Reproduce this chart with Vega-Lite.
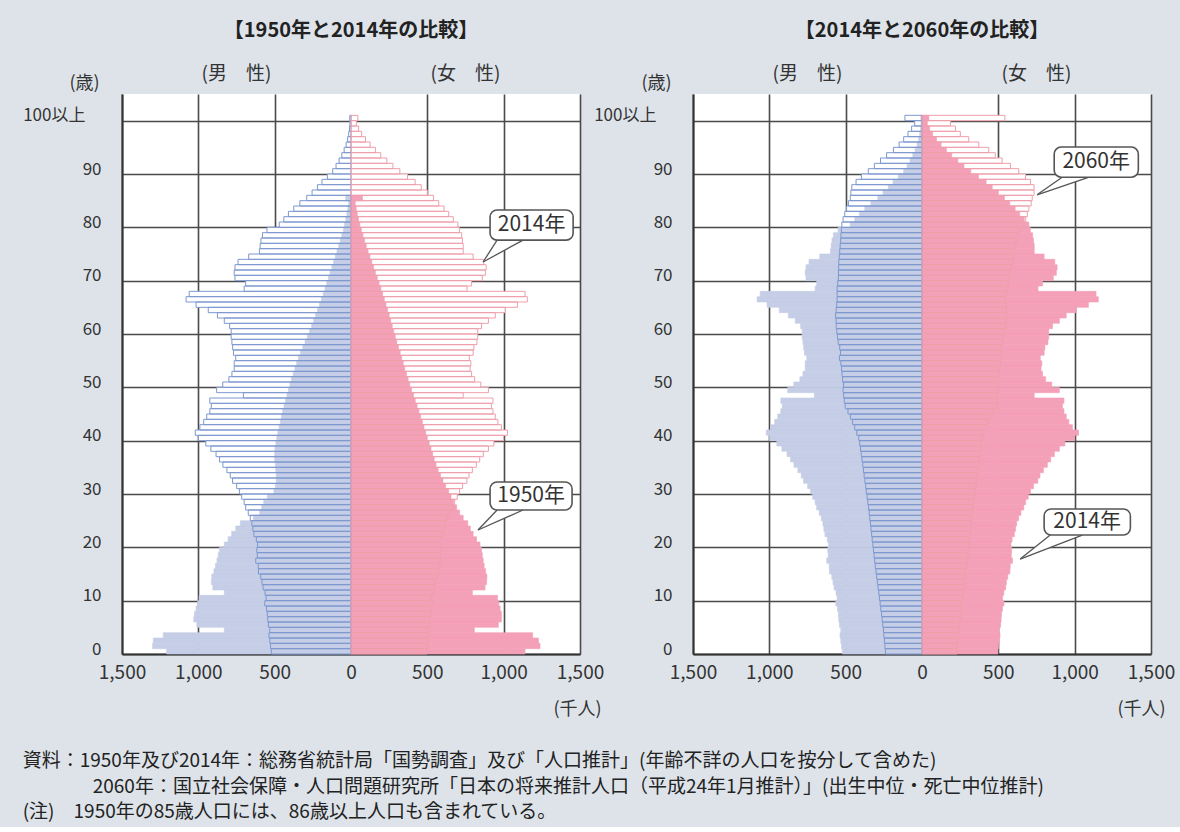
{
"$schema":"https://vega.github.io/schema/vega-lite/v6.json",
"background":"#dde3e9",
"padding":{"left":22,"top":21,"right":10,"bottom":5},
"config":{"font":"Noto Sans CJK JP","view":{"stroke":null,"fill":"white"},"axis":{"labelFont":"Noto Sans CJK JP","titleFont":"Noto Sans CJK JP"},"title":{"font":"Noto Sans CJK JP"},"text":{"font":"Noto Sans CJK JP"}},
"datasets":{
"d1950":[
{"sex":"M","age":0,"pop":1208},{"sex":"M","age":1,"pop":1300},{"sex":"M","age":2,"pop":1295},{"sex":"M","age":3,"pop":1230},{"sex":"M","age":4,"pop":830},{"sex":"M","age":5,"pop":1010},{"sex":"M","age":6,"pop":1030},{"sex":"M","age":7,"pop":1025},{"sex":"M","age":8,"pop":1015},{"sex":"M","age":9,"pop":1005},
{"sex":"M","age":10,"pop":995},{"sex":"M","age":11,"pop":830},{"sex":"M","age":12,"pop":905},{"sex":"M","age":13,"pop":915},{"sex":"M","age":14,"pop":912},{"sex":"M","age":15,"pop":898},{"sex":"M","age":16,"pop":888},{"sex":"M","age":17,"pop":878},{"sex":"M","age":18,"pop":870},{"sex":"M","age":19,"pop":862},
{"sex":"M","age":20,"pop":830},{"sex":"M","age":21,"pop":805},{"sex":"M","age":22,"pop":782},{"sex":"M","age":23,"pop":755},{"sex":"M","age":24,"pop":725},{"sex":"M","age":25,"pop":640},{"sex":"M","age":26,"pop":598},{"sex":"M","age":27,"pop":585},{"sex":"M","age":28,"pop":572},{"sex":"M","age":29,"pop":548},
{"sex":"M","age":30,"pop":505},{"sex":"M","age":31,"pop":495},{"sex":"M","age":32,"pop":490},{"sex":"M","age":33,"pop":490},{"sex":"M","age":34,"pop":493},{"sex":"M","age":35,"pop":496},{"sex":"M","age":36,"pop":500},{"sex":"M","age":37,"pop":500},{"sex":"M","age":38,"pop":498},{"sex":"M","age":39,"pop":492},
{"sex":"M","age":40,"pop":486},{"sex":"M","age":41,"pop":479},{"sex":"M","age":42,"pop":471},{"sex":"M","age":43,"pop":463},{"sex":"M","age":44,"pop":456},{"sex":"M","age":45,"pop":448},{"sex":"M","age":46,"pop":439},{"sex":"M","age":47,"pop":429},{"sex":"M","age":48,"pop":419},{"sex":"M","age":49,"pop":410},
{"sex":"M","age":50,"pop":400},{"sex":"M","age":51,"pop":390},{"sex":"M","age":52,"pop":379},{"sex":"M","age":53,"pop":367},{"sex":"M","age":54,"pop":356},{"sex":"M","age":55,"pop":345},{"sex":"M","age":56,"pop":331},{"sex":"M","age":57,"pop":316},{"sex":"M","age":58,"pop":301},{"sex":"M","age":59,"pop":286},
{"sex":"M","age":60,"pop":271},{"sex":"M","age":61,"pop":258},{"sex":"M","age":62,"pop":245},{"sex":"M","age":63,"pop":232},{"sex":"M","age":64,"pop":219},{"sex":"M","age":65,"pop":206},{"sex":"M","age":66,"pop":194},{"sex":"M","age":67,"pop":182},{"sex":"M","age":68,"pop":170},{"sex":"M","age":69,"pop":159},
{"sex":"M","age":70,"pop":148},{"sex":"M","age":71,"pop":137},{"sex":"M","age":72,"pop":125},{"sex":"M","age":73,"pop":114},{"sex":"M","age":74,"pop":103},{"sex":"M","age":75,"pop":92},{"sex":"M","age":76,"pop":81},{"sex":"M","age":77,"pop":70},{"sex":"M","age":78,"pop":60},{"sex":"M","age":79,"pop":50},
{"sex":"M","age":80,"pop":42},{"sex":"M","age":81,"pop":34},{"sex":"M","age":82,"pop":27},{"sex":"M","age":83,"pop":21},{"sex":"M","age":84,"pop":16},{"sex":"M","age":85,"pop":35},
{"sex":"F","age":0,"pop":1140},{"sex":"F","age":1,"pop":1238},{"sex":"F","age":2,"pop":1228},{"sex":"F","age":3,"pop":1190},{"sex":"F","age":4,"pop":808},{"sex":"F","age":5,"pop":965},{"sex":"F","age":6,"pop":985},{"sex":"F","age":7,"pop":985},{"sex":"F","age":8,"pop":977},{"sex":"F","age":9,"pop":968},
{"sex":"F","age":10,"pop":960},{"sex":"F","age":11,"pop":795},{"sex":"F","age":12,"pop":878},{"sex":"F","age":13,"pop":888},{"sex":"F","age":14,"pop":890},{"sex":"F","age":15,"pop":882},{"sex":"F","age":16,"pop":872},{"sex":"F","age":17,"pop":866},{"sex":"F","age":18,"pop":860},{"sex":"F","age":19,"pop":855},
{"sex":"F","age":20,"pop":845},{"sex":"F","age":21,"pop":822},{"sex":"F","age":22,"pop":800},{"sex":"F","age":23,"pop":782},{"sex":"F","age":24,"pop":765},{"sex":"F","age":25,"pop":735},{"sex":"F","age":26,"pop":712},{"sex":"F","age":27,"pop":692},{"sex":"F","age":28,"pop":672},{"sex":"F","age":29,"pop":655},
{"sex":"F","age":30,"pop":640},{"sex":"F","age":31,"pop":620},{"sex":"F","age":32,"pop":602},{"sex":"F","age":33,"pop":586},{"sex":"F","age":34,"pop":571},{"sex":"F","age":35,"pop":557},{"sex":"F","age":36,"pop":545},{"sex":"F","age":37,"pop":535},{"sex":"F","age":38,"pop":524},{"sex":"F","age":39,"pop":512},
{"sex":"F","age":40,"pop":500},{"sex":"F","age":41,"pop":490},{"sex":"F","age":42,"pop":478},{"sex":"F","age":43,"pop":467},{"sex":"F","age":44,"pop":456},{"sex":"F","age":45,"pop":445},{"sex":"F","age":46,"pop":433},{"sex":"F","age":47,"pop":421},{"sex":"F","age":48,"pop":409},{"sex":"F","age":49,"pop":397},
{"sex":"F","age":50,"pop":385},{"sex":"F","age":51,"pop":374},{"sex":"F","age":52,"pop":363},{"sex":"F","age":53,"pop":352},{"sex":"F","age":54,"pop":342},{"sex":"F","age":55,"pop":332},{"sex":"F","age":56,"pop":322},{"sex":"F","age":57,"pop":311},{"sex":"F","age":58,"pop":300},{"sex":"F","age":59,"pop":290},
{"sex":"F","age":60,"pop":280},{"sex":"F","age":61,"pop":270},{"sex":"F","age":62,"pop":260},{"sex":"F","age":63,"pop":250},{"sex":"F","age":64,"pop":240},{"sex":"F","age":65,"pop":229},{"sex":"F","age":66,"pop":218},{"sex":"F","age":67,"pop":207},{"sex":"F","age":68,"pop":196},{"sex":"F","age":69,"pop":184},
{"sex":"F","age":70,"pop":172},{"sex":"F","age":71,"pop":160},{"sex":"F","age":72,"pop":148},{"sex":"F","age":73,"pop":136},{"sex":"F","age":74,"pop":124},{"sex":"F","age":75,"pop":112},{"sex":"F","age":76,"pop":100},{"sex":"F","age":77,"pop":89},{"sex":"F","age":78,"pop":78},{"sex":"F","age":79,"pop":68},
{"sex":"F","age":80,"pop":58},{"sex":"F","age":81,"pop":49},{"sex":"F","age":82,"pop":41},{"sex":"F","age":83,"pop":34},{"sex":"F","age":84,"pop":28},{"sex":"F","age":85,"pop":75}
],
"d2014":[
{"sex":"M","age":0,"pop":522},{"sex":"M","age":1,"pop":527},{"sex":"M","age":2,"pop":532},{"sex":"M","age":3,"pop":537},{"sex":"M","age":4,"pop":532},{"sex":"M","age":5,"pop":541},{"sex":"M","age":6,"pop":545},{"sex":"M","age":7,"pop":548},{"sex":"M","age":8,"pop":553},{"sex":"M","age":9,"pop":565},
{"sex":"M","age":10,"pop":556},{"sex":"M","age":11,"pop":563},{"sex":"M","age":12,"pop":576},{"sex":"M","age":13,"pop":583},{"sex":"M","age":14,"pop":591},{"sex":"M","age":15,"pop":606},{"sex":"M","age":16,"pop":608},{"sex":"M","age":17,"pop":624},{"sex":"M","age":18,"pop":614},{"sex":"M","age":19,"pop":617},
{"sex":"M","age":20,"pop":612},{"sex":"M","age":21,"pop":620},{"sex":"M","age":22,"pop":636},{"sex":"M","age":23,"pop":643},{"sex":"M","age":24,"pop":649},{"sex":"M","age":25,"pop":660},{"sex":"M","age":26,"pop":673},{"sex":"M","age":27,"pop":690},{"sex":"M","age":28,"pop":700},{"sex":"M","age":29,"pop":716},
{"sex":"M","age":30,"pop":731},{"sex":"M","age":31,"pop":749},{"sex":"M","age":32,"pop":776},{"sex":"M","age":33,"pop":791},{"sex":"M","age":34,"pop":813},{"sex":"M","age":35,"pop":839},{"sex":"M","age":36,"pop":861},{"sex":"M","age":37,"pop":884},{"sex":"M","age":38,"pop":918},{"sex":"M","age":39,"pop":951},
{"sex":"M","age":40,"pop":1000},{"sex":"M","age":41,"pop":1020},{"sex":"M","age":42,"pop":990},{"sex":"M","age":43,"pop":965},{"sex":"M","age":44,"pop":945},{"sex":"M","age":45,"pop":925},{"sex":"M","age":46,"pop":915},{"sex":"M","age":47,"pop":925},{"sex":"M","age":48,"pop":705},{"sex":"M","age":49,"pop":880},
{"sex":"M","age":50,"pop":840},{"sex":"M","age":51,"pop":800},{"sex":"M","age":52,"pop":780},{"sex":"M","age":53,"pop":765},{"sex":"M","age":54,"pop":765},{"sex":"M","age":55,"pop":755},{"sex":"M","age":56,"pop":770},{"sex":"M","age":57,"pop":775},{"sex":"M","age":58,"pop":780},{"sex":"M","age":59,"pop":785},
{"sex":"M","age":60,"pop":785},{"sex":"M","age":61,"pop":795},{"sex":"M","age":62,"pop":830},{"sex":"M","age":63,"pop":875},{"sex":"M","age":64,"pop":935},{"sex":"M","age":65,"pop":1015},{"sex":"M","age":66,"pop":1080},{"sex":"M","age":67,"pop":1060},{"sex":"M","age":68,"pop":700},{"sex":"M","age":69,"pop":690},
{"sex":"M","age":70,"pop":760},{"sex":"M","age":71,"pop":765},{"sex":"M","age":72,"pop":760},{"sex":"M","age":73,"pop":740},{"sex":"M","age":74,"pop":670},{"sex":"M","age":75,"pop":600},{"sex":"M","age":76,"pop":595},{"sex":"M","age":77,"pop":590},{"sex":"M","age":78,"pop":580},{"sex":"M","age":79,"pop":550},
{"sex":"M","age":80,"pop":470},{"sex":"M","age":81,"pop":440},{"sex":"M","age":82,"pop":410},{"sex":"M","age":83,"pop":375},{"sex":"M","age":84,"pop":335},{"sex":"M","age":85,"pop":290},{"sex":"M","age":86,"pop":255},{"sex":"M","age":87,"pop":220},{"sex":"M","age":88,"pop":190},{"sex":"M","age":89,"pop":155},
{"sex":"M","age":90,"pop":120},{"sex":"M","age":91,"pop":98},{"sex":"M","age":92,"pop":78},{"sex":"M","age":93,"pop":60},{"sex":"M","age":94,"pop":45},{"sex":"M","age":95,"pop":32},{"sex":"M","age":96,"pop":22},{"sex":"M","age":97,"pop":15},{"sex":"M","age":98,"pop":10},{"sex":"M","age":99,"pop":7},{"sex":"M","age":100,"pop":8},
{"sex":"F","age":0,"pop":497},{"sex":"F","age":1,"pop":502},{"sex":"F","age":2,"pop":506},{"sex":"F","age":3,"pop":511},{"sex":"F","age":4,"pop":506},{"sex":"F","age":5,"pop":515},{"sex":"F","age":6,"pop":518},{"sex":"F","age":7,"pop":521},{"sex":"F","age":8,"pop":527},{"sex":"F","age":9,"pop":537},
{"sex":"F","age":10,"pop":528},{"sex":"F","age":11,"pop":536},{"sex":"F","age":12,"pop":548},{"sex":"F","age":13,"pop":553},{"sex":"F","age":14,"pop":562},{"sex":"F","age":15,"pop":576},{"sex":"F","age":16,"pop":578},{"sex":"F","age":17,"pop":593},{"sex":"F","age":18,"pop":585},{"sex":"F","age":19,"pop":587},
{"sex":"F","age":20,"pop":583},{"sex":"F","age":21,"pop":590},{"sex":"F","age":22,"pop":605},{"sex":"F","age":23,"pop":613},{"sex":"F","age":24,"pop":620},{"sex":"F","age":25,"pop":633},{"sex":"F","age":26,"pop":648},{"sex":"F","age":27,"pop":667},{"sex":"F","age":28,"pop":679},{"sex":"F","age":29,"pop":696},
{"sex":"F","age":30,"pop":711},{"sex":"F","age":31,"pop":731},{"sex":"F","age":32,"pop":759},{"sex":"F","age":33,"pop":773},{"sex":"F","age":34,"pop":795},{"sex":"F","age":35,"pop":821},{"sex":"F","age":36,"pop":843},{"sex":"F","age":37,"pop":867},{"sex":"F","age":38,"pop":900},{"sex":"F","age":39,"pop":936},
{"sex":"F","age":40,"pop":1000},{"sex":"F","age":41,"pop":1025},{"sex":"F","age":42,"pop":985},{"sex":"F","age":43,"pop":962},{"sex":"F","age":44,"pop":945},{"sex":"F","age":45,"pop":930},{"sex":"F","age":46,"pop":920},{"sex":"F","age":47,"pop":930},{"sex":"F","age":48,"pop":735},{"sex":"F","age":49,"pop":900},
{"sex":"F","age":50,"pop":850},{"sex":"F","age":51,"pop":810},{"sex":"F","age":52,"pop":790},{"sex":"F","age":53,"pop":780},{"sex":"F","age":54,"pop":785},{"sex":"F","age":55,"pop":775},{"sex":"F","age":56,"pop":800},{"sex":"F","age":57,"pop":805},{"sex":"F","age":58,"pop":825},{"sex":"F","age":59,"pop":830},
{"sex":"F","age":60,"pop":830},{"sex":"F","age":61,"pop":855},{"sex":"F","age":62,"pop":900},{"sex":"F","age":63,"pop":945},{"sex":"F","age":64,"pop":1010},{"sex":"F","age":65,"pop":1090},{"sex":"F","age":66,"pop":1155},{"sex":"F","age":67,"pop":1140},{"sex":"F","age":68,"pop":760},{"sex":"F","age":69,"pop":790},
{"sex":"F","age":70,"pop":860},{"sex":"F","age":71,"pop":880},{"sex":"F","age":72,"pop":885},{"sex":"F","age":73,"pop":870},{"sex":"F","age":74,"pop":800},{"sex":"F","age":75,"pop":735},{"sex":"F","age":76,"pop":735},{"sex":"F","age":77,"pop":730},{"sex":"F","age":78,"pop":725},{"sex":"F","age":79,"pop":710},
{"sex":"F","age":80,"pop":700},{"sex":"F","age":81,"pop":670},{"sex":"F","age":82,"pop":640},{"sex":"F","age":83,"pop":610},{"sex":"F","age":84,"pop":575},{"sex":"F","age":85,"pop":540},{"sex":"F","age":86,"pop":500},{"sex":"F","age":87,"pop":460},{"sex":"F","age":88,"pop":420},{"sex":"F","age":89,"pop":370},
{"sex":"F","age":90,"pop":320},{"sex":"F","age":91,"pop":275},{"sex":"F","age":92,"pop":235},{"sex":"F","age":93,"pop":195},{"sex":"F","age":94,"pop":160},{"sex":"F","age":95,"pop":125},{"sex":"F","age":96,"pop":95},{"sex":"F","age":97,"pop":70},{"sex":"F","age":98,"pop":50},{"sex":"F","age":99,"pop":35},{"sex":"F","age":100,"pop":45}
],
"d2060":[
{"sex":"M","age":0,"pop":240},{"sex":"M","age":1,"pop":243},{"sex":"M","age":2,"pop":246},{"sex":"M","age":3,"pop":250},{"sex":"M","age":4,"pop":253},{"sex":"M","age":5,"pop":257},{"sex":"M","age":6,"pop":261},{"sex":"M","age":7,"pop":265},{"sex":"M","age":8,"pop":270},{"sex":"M","age":9,"pop":274},
{"sex":"M","age":10,"pop":279},{"sex":"M","age":11,"pop":283},{"sex":"M","age":12,"pop":288},{"sex":"M","age":13,"pop":292},{"sex":"M","age":14,"pop":297},{"sex":"M","age":15,"pop":301},{"sex":"M","age":16,"pop":306},{"sex":"M","age":17,"pop":310},{"sex":"M","age":18,"pop":314},{"sex":"M","age":19,"pop":318},
{"sex":"M","age":20,"pop":322},{"sex":"M","age":21,"pop":326},{"sex":"M","age":22,"pop":330},{"sex":"M","age":23,"pop":334},{"sex":"M","age":24,"pop":338},{"sex":"M","age":25,"pop":342},{"sex":"M","age":26,"pop":346},{"sex":"M","age":27,"pop":350},{"sex":"M","age":28,"pop":355},{"sex":"M","age":29,"pop":360},
{"sex":"M","age":30,"pop":365},{"sex":"M","age":31,"pop":369},{"sex":"M","age":32,"pop":374},{"sex":"M","age":33,"pop":379},{"sex":"M","age":34,"pop":384},{"sex":"M","age":35,"pop":388},{"sex":"M","age":36,"pop":393},{"sex":"M","age":37,"pop":398},{"sex":"M","age":38,"pop":403},{"sex":"M","age":39,"pop":408},
{"sex":"M","age":40,"pop":414},{"sex":"M","age":41,"pop":427},{"sex":"M","age":42,"pop":441},{"sex":"M","age":43,"pop":455},{"sex":"M","age":44,"pop":469},{"sex":"M","age":45,"pop":485},{"sex":"M","age":46,"pop":503},{"sex":"M","age":47,"pop":509},{"sex":"M","age":48,"pop":513},{"sex":"M","age":49,"pop":517},
{"sex":"M","age":50,"pop":514},{"sex":"M","age":51,"pop":520},{"sex":"M","age":52,"pop":524},{"sex":"M","age":53,"pop":527},{"sex":"M","age":54,"pop":531},{"sex":"M","age":55,"pop":541},{"sex":"M","age":56,"pop":534},{"sex":"M","age":57,"pop":539},{"sex":"M","age":58,"pop":549},{"sex":"M","age":59,"pop":554},
{"sex":"M","age":60,"pop":558},{"sex":"M","age":61,"pop":562},{"sex":"M","age":62,"pop":563},{"sex":"M","age":63,"pop":566},{"sex":"M","age":64,"pop":562},{"sex":"M","age":65,"pop":559},{"sex":"M","age":66,"pop":556},{"sex":"M","age":67,"pop":556},{"sex":"M","age":68,"pop":556},{"sex":"M","age":69,"pop":552},
{"sex":"M","age":70,"pop":548},{"sex":"M","age":71,"pop":547},{"sex":"M","age":72,"pop":546},{"sex":"M","age":73,"pop":545},{"sex":"M","age":74,"pop":542},{"sex":"M","age":75,"pop":539},{"sex":"M","age":76,"pop":536},{"sex":"M","age":77,"pop":533},{"sex":"M","age":78,"pop":531},{"sex":"M","age":79,"pop":528},
{"sex":"M","age":80,"pop":525},{"sex":"M","age":81,"pop":517},{"sex":"M","age":82,"pop":506},{"sex":"M","age":83,"pop":494},{"sex":"M","age":84,"pop":482},{"sex":"M","age":85,"pop":470},{"sex":"M","age":86,"pop":466},{"sex":"M","age":87,"pop":460},{"sex":"M","age":88,"pop":432},{"sex":"M","age":89,"pop":397},
{"sex":"M","age":90,"pop":352},{"sex":"M","age":91,"pop":312},{"sex":"M","age":92,"pop":272},{"sex":"M","age":93,"pop":232},{"sex":"M","age":94,"pop":187},{"sex":"M","age":95,"pop":150},{"sex":"M","age":96,"pop":120},{"sex":"M","age":97,"pop":92},{"sex":"M","age":98,"pop":68},{"sex":"M","age":99,"pop":48},{"sex":"M","age":100,"pop":112},
{"sex":"F","age":0,"pop":229},{"sex":"F","age":1,"pop":232},{"sex":"F","age":2,"pop":235},{"sex":"F","age":3,"pop":239},{"sex":"F","age":4,"pop":242},{"sex":"F","age":5,"pop":245},{"sex":"F","age":6,"pop":249},{"sex":"F","age":7,"pop":253},{"sex":"F","age":8,"pop":257},{"sex":"F","age":9,"pop":261},
{"sex":"F","age":10,"pop":266},{"sex":"F","age":11,"pop":270},{"sex":"F","age":12,"pop":274},{"sex":"F","age":13,"pop":278},{"sex":"F","age":14,"pop":283},{"sex":"F","age":15,"pop":287},{"sex":"F","age":16,"pop":292},{"sex":"F","age":17,"pop":296},{"sex":"F","age":18,"pop":300},{"sex":"F","age":19,"pop":303},
{"sex":"F","age":20,"pop":307},{"sex":"F","age":21,"pop":311},{"sex":"F","age":22,"pop":314},{"sex":"F","age":23,"pop":318},{"sex":"F","age":24,"pop":322},{"sex":"F","age":25,"pop":326},{"sex":"F","age":26,"pop":329},{"sex":"F","age":27,"pop":333},{"sex":"F","age":28,"pop":338},{"sex":"F","age":29,"pop":343},
{"sex":"F","age":30,"pop":348},{"sex":"F","age":31,"pop":352},{"sex":"F","age":32,"pop":357},{"sex":"F","age":33,"pop":362},{"sex":"F","age":34,"pop":366},{"sex":"F","age":35,"pop":370},{"sex":"F","age":36,"pop":375},{"sex":"F","age":37,"pop":380},{"sex":"F","age":38,"pop":385},{"sex":"F","age":39,"pop":390},
{"sex":"F","age":40,"pop":395},{"sex":"F","age":41,"pop":408},{"sex":"F","age":42,"pop":421},{"sex":"F","age":43,"pop":434},{"sex":"F","age":44,"pop":448},{"sex":"F","age":45,"pop":463},{"sex":"F","age":46,"pop":490},{"sex":"F","age":47,"pop":494},{"sex":"F","age":48,"pop":497},{"sex":"F","age":49,"pop":502},
{"sex":"F","age":50,"pop":496},{"sex":"F","age":51,"pop":504},{"sex":"F","age":52,"pop":506},{"sex":"F","age":53,"pop":508},{"sex":"F","age":54,"pop":513},{"sex":"F","age":55,"pop":521},{"sex":"F","age":56,"pop":512},{"sex":"F","age":57,"pop":518},{"sex":"F","age":58,"pop":529},{"sex":"F","age":59,"pop":532},
{"sex":"F","age":60,"pop":539},{"sex":"F","age":61,"pop":551},{"sex":"F","age":62,"pop":551},{"sex":"F","age":63,"pop":563},{"sex":"F","age":64,"pop":553},{"sex":"F","age":65,"pop":553},{"sex":"F","age":66,"pop":547},{"sex":"F","age":67,"pop":550},{"sex":"F","age":68,"pop":561},{"sex":"F","age":69,"pop":565},
{"sex":"F","age":70,"pop":568},{"sex":"F","age":71,"pop":575},{"sex":"F","age":72,"pop":584},{"sex":"F","age":73,"pop":595},{"sex":"F","age":74,"pop":599},{"sex":"F","age":75,"pop":606},{"sex":"F","age":76,"pop":611},{"sex":"F","age":77,"pop":618},{"sex":"F","age":78,"pop":631},{"sex":"F","age":79,"pop":640},
{"sex":"F","age":80,"pop":667},{"sex":"F","age":81,"pop":680},{"sex":"F","age":82,"pop":690},{"sex":"F","age":83,"pop":700},{"sex":"F","age":84,"pop":715},{"sex":"F","age":85,"pop":722},{"sex":"F","age":86,"pop":734},{"sex":"F","age":87,"pop":734},{"sex":"F","age":88,"pop":711},{"sex":"F","age":89,"pop":678},
{"sex":"F","age":90,"pop":634},{"sex":"F","age":91,"pop":580},{"sex":"F","age":92,"pop":525},{"sex":"F","age":93,"pop":480},{"sex":"F","age":94,"pop":437},{"sex":"F","age":95,"pop":372},{"sex":"F","age":96,"pop":306},{"sex":"F","age":97,"pop":251},{"sex":"F","age":98,"pop":219},{"sex":"F","age":99,"pop":186},{"sex":"F","age":100,"pop":543}
],
"callL":[{"label":"2014年","x1":911,"x2":1455,"y1":77.6,"y2":83.25,"xc":1183,"yc":80.4},{"label":"1950年","x1":911,"x2":1448,"y1":27.0,"y2":32.25,"xc":1180,"yc":29.6}],
"tailL":[{"bx":957,"by":77.6,"tx":865,"ty":73.5},{"bx":1127,"by":77.6,"tx":865,"ty":73.5},{"bx":957,"by":27.0,"tx":832,"ty":23.25},{"bx":1127,"by":27.0,"tx":832,"ty":23.25}],
"wedgeL":[{"id":"a","wx":865,"lo":73.5,"hi":73.5},{"id":"a","wx":957,"lo":74.94,"hi":77.6},{"id":"a","wx":1127,"lo":77.6,"hi":77.6},{"id":"b","wx":832,"lo":23.25,"hi":23.25},{"id":"b","wx":957,"lo":24.84,"hi":27.0},{"id":"b","wx":1127,"lo":27.0,"hi":27.0}],
"callR":[{"label":"2060年","x1":866,"x2":1417,"y1":89.4,"y2":95.06,"xc":1141,"yc":92.2},{"label":"2014年","x1":800,"x2":1365,"y1":22.3,"y2":27.2,"xc":1082,"yc":24.7}],
"tailR":[{"bx":918,"by":89.4,"tx":754,"ty":86.1},{"bx":1095,"by":89.4,"tx":754,"ty":86.1},{"bx":840,"by":22.3,"tx":643,"ty":17.8},{"bx":1050,"by":22.3,"tx":643,"ty":17.8}],
"wedgeR":[{"id":"a","wx":754,"lo":86.1,"hi":86.1},{"id":"a","wx":918,"lo":87.69,"hi":89.4},{"id":"a","wx":1095,"lo":89.4,"hi":89.4},{"id":"b","wx":643,"lo":17.8,"hi":17.8},{"id":"b","wx":840,"lo":19.98,"hi":22.3},{"id":"b","wx":1050,"lo":22.3,"hi":22.3}],
"hdr":[{"label":"(男　性)","xv":-750,"age":108.7},{"label":"(女　性)","xv":750,"age":108.7}]
},
"title":{"text":["資料：1950年及び2014年：総務省統計局「国勢調査」及び「人口推計」(年齢不詳の人口を按分して含めた)","⠀⠀⠀⠀⠀2060年：国立社会保障・人口問題研究所「日本の将来推計人口（平成24年1月推計）」(出生中位・死亡中位推計)","(注)　1950年の85歳人口には、86歳以上人口も含まれている。"],"orient":"bottom","anchor":"start","fontSize":19,"fontWeight":"normal","lineHeight":25.5,"offset":34,"color":"#222"},
"spacing":113,
"bounds":"flush",
"hconcat":[
{
"width":458,"height":560,
"title":{"text":"【1950年と2014年の比較】","fontSize":20,"fontWeight":"bold","frame":"group","offset":24,"anchor":"middle","color":"#222"},
"layer":[
{"data":{"name":"d2014"},"transform":[{"calculate":"datum.sex == 'M' ? -datum.pop : datum.pop","as":"xv"},{"calculate":"datum.age + 1","as":"age1"}],
 "mark":{"type":"bar","fill":"white"},
 "encoding":{
  "x":{"field":"xv","type":"quantitative","scale":{"domain":[-1500,1500],"nice":false,"zero":false},
   "axis":{"values":[-1500,-1000,-500,0,500,1000,1500],"labelExpr":"format(abs(datum.value), ',')","labelFlush":false,"labelOverlap":false,"grid":true,"gridColor":"#4a4a4a","gridWidth":1.6,"gridOpacity":{"condition":{"test":"datum.value === 0","value":0},"value":1},"domainColor":"#333","domainWidth":2,"ticks":false,"labelPadding":9,"labelFontSize":19,"labelColor":"#333","title":"(千人)","titleFontSize":18,"titleFontWeight":"normal","titleColor":"#333","titleAlign":"center","titleBaseline":"middle","titleX":455,"titleY":55}},
  "x2":{"datum":0},
  "y":{"field":"age","type":"quantitative","scale":{"domain":[0,105],"nice":false},
   "axis":{"values":[0,10,20,30,40,50,60,70,80,90,100],"labelExpr":"datum.value == 100 ? '100以上' : datum.label","labelFlush":false,"grid":true,"gridColor":"#4a4a4a","gridWidth":1.6,"domainColor":"#333","domainWidth":2,"ticks":false,"labelPadding":{"condition":{"test":"datum.value == 100","value":37},"value":21},"labelFontSize":17,"labelColor":"#333","labelOffset":-5,"title":"(歳)","titleAngle":0,"titleX":-38,"titleY":-11,"titleAlign":"center","titleBaseline":"middle","titleFontSize":18,"titleFontWeight":"normal","titleColor":"#333"}},
  "y2":{"field":"age1"}}},
{"data":{"name":"d1950"},"transform":[{"calculate":"datum.sex == 'M' ? -datum.pop : datum.pop","as":"xv"},{"calculate":"datum.age + 1","as":"age1"}],
 "mark":{"type":"bar","strokeWidth":0.6},
 "encoding":{"x":{"field":"xv","type":"quantitative"},"x2":{"datum":0},"y":{"field":"age","type":"quantitative"},"y2":{"field":"age1"},
  "color":{"condition":{"test":"datum.sex == 'M'","value":"#c5cee6"},"value":"#f4a0b8"},
  "stroke":{"condition":{"test":"datum.sex == 'M'","value":"#c5cee6"},"value":"#f4a0b8"}}},
{"data":{"name":"d2014"},"transform":[{"calculate":"datum.sex == 'M' ? -datum.pop : datum.pop","as":"xv"},{"calculate":"datum.age + 1","as":"age1"}],
 "mark":{"type":"bar","filled":false,"strokeWidth":1},
 "encoding":{"x":{"field":"xv","type":"quantitative"},"x2":{"datum":0},"y":{"field":"age","type":"quantitative"},"y2":{"field":"age1"},
  "color":{"condition":{"test":"datum.sex == 'M'","value":"#7d98cf"},"value":"#ee9faa"}}},
{"data":{"name":"wedgeL"},"mark":{"type":"area","color":"white","interpolate":"linear"},
 "encoding":{"x":{"field":"wx","type":"quantitative"},"y":{"field":"lo","type":"quantitative"},"y2":{"field":"hi"},"detail":{"field":"id"}}},
{"data":{"name":"tailL"},"mark":{"type":"rule","color":"#555","strokeWidth":1.3},
 "encoding":{"x":{"field":"bx","type":"quantitative"},"y":{"field":"by","type":"quantitative"},"x2":{"field":"tx"},"y2":{"field":"ty"}}},
{"data":{"name":"callL"},"mark":{"type":"rect","fill":"white","stroke":"#555","strokeWidth":1.6,"cornerRadius":7},
 "encoding":{"x":{"field":"x1","type":"quantitative"},"x2":{"field":"x2"},"y":{"field":"y1","type":"quantitative"},"y2":{"field":"y2"}}},
{"data":{"name":"callL"},"mark":{"type":"text","fontSize":21,"color":"#333","baseline":"middle","align":"center"},
 "encoding":{"x":{"field":"xc","type":"quantitative"},"y":{"field":"yc","type":"quantitative"},"text":{"field":"label"}}},
{"data":{"name":"hdr"},"mark":{"type":"text","fontSize":19,"color":"#333","baseline":"middle","align":"center"},
 "encoding":{"x":{"field":"xv","type":"quantitative"},"y":{"field":"age","type":"quantitative"},"text":{"field":"label"}}}
]
},
{
"width":458,"height":560,
"title":{"text":"【2014年と2060年の比較】","fontSize":20,"fontWeight":"bold","frame":"group","offset":24,"anchor":"middle","color":"#222"},
"layer":[
{"data":{"name":"d2060"},"transform":[{"calculate":"datum.sex == 'M' ? -datum.pop : datum.pop","as":"xv"},{"calculate":"datum.age + 1","as":"age1"}],
 "mark":{"type":"bar","fill":"white"},
 "encoding":{
  "x":{"field":"xv","type":"quantitative","scale":{"domain":[-1500,1500],"nice":false,"zero":false},
   "axis":{"values":[-1500,-1000,-500,0,500,1000,1500],"labelExpr":"format(abs(datum.value), ',')","labelFlush":false,"labelOverlap":false,"grid":true,"gridColor":"#4a4a4a","gridWidth":1.6,"gridOpacity":{"condition":{"test":"datum.value === 0","value":0},"value":1},"domainColor":"#333","domainWidth":2,"ticks":false,"labelPadding":9,"labelFontSize":19,"labelColor":"#333","title":"(千人)","titleFontSize":18,"titleFontWeight":"normal","titleColor":"#333","titleAlign":"center","titleBaseline":"middle","titleX":448,"titleY":55}},
  "x2":{"datum":0},
  "y":{"field":"age","type":"quantitative","scale":{"domain":[0,105],"nice":false},
   "axis":{"values":[0,10,20,30,40,50,60,70,80,90,100],"labelExpr":"datum.value == 100 ? '100以上' : datum.label","labelFlush":false,"grid":true,"gridColor":"#4a4a4a","gridWidth":1.6,"domainColor":"#333","domainWidth":2,"ticks":false,"labelPadding":{"condition":{"test":"datum.value == 100","value":37},"value":21},"labelFontSize":17,"labelColor":"#333","labelOffset":-5,"title":"(歳)","titleAngle":0,"titleX":-37,"titleY":-11,"titleAlign":"center","titleBaseline":"middle","titleFontSize":18,"titleFontWeight":"normal","titleColor":"#333"}},
  "y2":{"field":"age1"}}},
{"data":{"name":"d2014"},"transform":[{"calculate":"datum.sex == 'M' ? -datum.pop : datum.pop","as":"xv"},{"calculate":"datum.age + 1","as":"age1"}],
 "mark":{"type":"bar","strokeWidth":0.6},
 "encoding":{"x":{"field":"xv","type":"quantitative"},"x2":{"datum":0},"y":{"field":"age","type":"quantitative"},"y2":{"field":"age1"},
  "color":{"condition":{"test":"datum.sex == 'M'","value":"#c5cee6"},"value":"#f4a0b8"},
  "stroke":{"condition":{"test":"datum.sex == 'M'","value":"#c5cee6"},"value":"#f4a0b8"}}},
{"data":{"name":"d2060"},"transform":[{"calculate":"datum.sex == 'M' ? -datum.pop : datum.pop","as":"xv"},{"calculate":"datum.age + 1","as":"age1"}],
 "mark":{"type":"bar","filled":false,"strokeWidth":1},
 "encoding":{"x":{"field":"xv","type":"quantitative"},"x2":{"datum":0},"y":{"field":"age","type":"quantitative"},"y2":{"field":"age1"},
  "color":{"condition":{"test":"datum.sex == 'M'","value":"#7d98cf"},"value":"#ee9faa"}}},
{"data":{"name":"wedgeR"},"mark":{"type":"area","color":"white","interpolate":"linear"},
 "encoding":{"x":{"field":"wx","type":"quantitative"},"y":{"field":"lo","type":"quantitative"},"y2":{"field":"hi"},"detail":{"field":"id"}}},
{"data":{"name":"tailR"},"mark":{"type":"rule","color":"#555","strokeWidth":1.3},
 "encoding":{"x":{"field":"bx","type":"quantitative"},"y":{"field":"by","type":"quantitative"},"x2":{"field":"tx"},"y2":{"field":"ty"}}},
{"data":{"name":"callR"},"mark":{"type":"rect","fill":"white","stroke":"#555","strokeWidth":1.6,"cornerRadius":7},
 "encoding":{"x":{"field":"x1","type":"quantitative"},"x2":{"field":"x2"},"y":{"field":"y1","type":"quantitative"},"y2":{"field":"y2"}}},
{"data":{"name":"callR"},"mark":{"type":"text","fontSize":21,"color":"#333","baseline":"middle","align":"center"},
 "encoding":{"x":{"field":"xc","type":"quantitative"},"y":{"field":"yc","type":"quantitative"},"text":{"field":"label"}}},
{"data":{"name":"hdr"},"mark":{"type":"text","fontSize":19,"color":"#333","baseline":"middle","align":"center"},
 "encoding":{"x":{"field":"xv","type":"quantitative"},"y":{"field":"age","type":"quantitative"},"text":{"field":"label"}}}
]
}
]
}
